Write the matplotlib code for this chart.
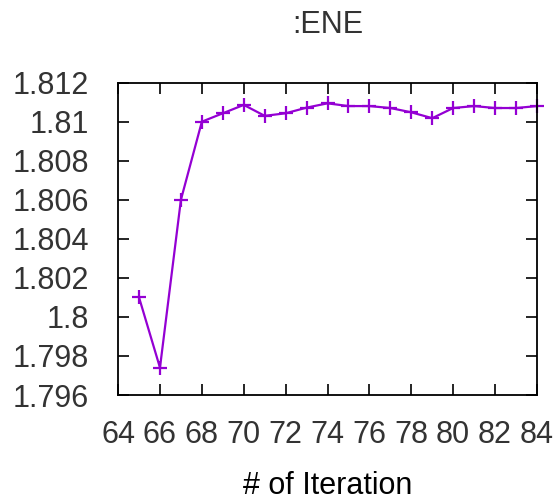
import matplotlib
matplotlib.use('Agg')
import matplotlib.pyplot as plt
from matplotlib.ticker import FuncFormatter, MultipleLocator

iteration = [65, 66, 67, 68, 69, 70, 71, 72, 73, 74, 75, 76, 77, 78, 79, 80, 81, 82, 83, 84]
ene = [1.8010, 1.7974, 1.8060, 1.8100, 1.81043, 1.81086, 1.8103, 1.81043, 1.81072, 1.81094,
       1.8108, 1.8108, 1.8107, 1.81048, 1.81018, 1.8107, 1.8108, 1.8107, 1.8107, 1.8108]

plt.rcParams['font.family'] = ['Liberation Sans', 'DejaVu Sans']
plt.rcParams['font.size'] = 22
plt.rcParams['text.color'] = '#333333'

fig = plt.figure(figsize=(5.57, 5.03), dpi=100)
ax = fig.add_axes([0.212, 0.2147, 0.752, 0.621])

ax.plot(iteration, ene, color='#9400d3', lw=1.6, marker='+', markersize=10,
        markeredgewidth=1.6, clip_on=False)

ax.set_xlim(64, 84)
ax.set_ylim(1.796, 1.812)
ax.xaxis.set_major_locator(MultipleLocator(2))
ax.yaxis.set_major_locator(MultipleLocator(0.002))
ax.yaxis.set_major_formatter(FuncFormatter(lambda v, p: '%g' % round(v, 4)))
ax.tick_params(direction='in', length=8, width=1.2, top=True, right=True, colors='black')
ax.tick_params(axis='x', pad=18, labelcolor='#333333')
ax.tick_params(axis='y', pad=21, labelcolor='#333333')
for s in ax.spines.values():
    s.set_linewidth(1.3)

ax.set_title(':ENE', fontsize=22, pad=36)
ax.set_xlabel('# of Iteration', fontsize=22, labelpad=15)

fig.savefig('out.png', dpi=100)
